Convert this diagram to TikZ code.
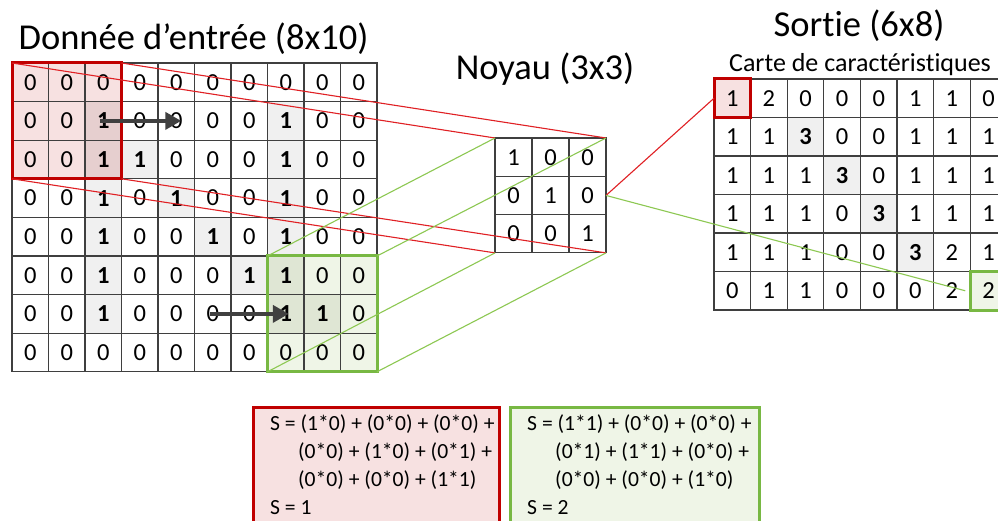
\documentclass[tikz,border=0pt]{standalone}
\usepackage{fontspec}
\setmainfont{Carlito}[Ligatures={NoCommon,NoContextual},RawFeature={-liga;-clig;-dlig}]
\usetikzlibrary{arrows.meta}
\definecolor{gridc}{HTML}{3F3F3F}
\definecolor{redb}{HTML}{C00000}
\definecolor{redl}{HTML}{E02024}
\definecolor{pinkf}{HTML}{F7E1E1}
\definecolor{pinkd}{HTML}{E6CFCF}
\definecolor{greenb}{HTML}{78B843}
\definecolor{greenl}{HTML}{8DC852}
\definecolor{greenf}{HTML}{EFF5E7}
\definecolor{greend}{HTML}{DFE6D4}
\definecolor{grayf}{HTML}{F0F0F0}
\definecolor{arrc}{HTML}{404040}
\tikzset{
  cellbase/.style={draw=gridc, line width=1.2pt, inner sep=0pt, outer sep=0pt,
    font=\fontsize{24.5}{27}\selectfont, text=black},
  incell/.style={cellbase, minimum width=36.5pt, minimum height=38.6pt},
  kcell/.style={cellbase, minimum width=37pt, minimum height=38.3pt},
  ocell/.style={cellbase, minimum width=36.6pt, minimum height=38.5pt},
  cz/.style={fill=white},
  cb/.style={fill=grayf, font=\fontsize{24.5}{27}\selectfont\bfseries},
  cpz/.style={fill=pinkf},
  cpb/.style={fill=pinkd, font=\fontsize{24.5}{27}\selectfont\bfseries},
  cgz/.style={fill=greenf},
  cgb/.style={fill=greend, font=\fontsize{24.5}{27}\selectfont\bfseries},
  redhl/.style={draw=redb, line width=3pt, inner sep=0pt, outer sep=0pt},
  greenhl/.style={draw=greenb, line width=3pt, inner sep=0pt, outer sep=0pt},
  redline/.style={draw=redl, line width=1.1pt},
  greenline/.style={draw=greenl, line width=1.1pt},
  slide/.style={draw=arrc, line width=4.5pt, -{Triangle[length=16pt,width=17pt]}},
  bigtitle/.style={font=\fontsize{36.5}{40}\selectfont, inner sep=0pt, anchor=base},
  subtitle/.style={font=\fontsize{26}{30}\selectfont, inner sep=0pt, anchor=base},
  formula/.style={font=\fontsize{21.6}{24}\selectfont, inner sep=0pt, anchor=base west},
}
\begin{document}
\begin{tikzpicture}[x=1pt,y=-1pt]
\useasboundingbox (0,0) rectangle (998,521);
\clip (0,0) rectangle (998,521);
\fill[white] (0,0) rectangle (998,521);

% titles
\node[bigtitle] (t1) at (193.5,50) {Donnée d’entrée (8x10)};
\node[bigtitle] (t2) at (545,80) {Noyau (3x3)};
\node[bigtitle] (t3) at (859,37) {Sortie (6x8)};
\node[subtitle] (t4) at (860,72) {Carte de caractéristiques};

% input grid
\foreach \row [count=\r from 0] in {
  {cpz/0,cpz/0,cpz/0,cz/0,cz/0,cz/0,cz/0,cz/0,cz/0,cz/0},
  {cpz/0,cpz/0,cpb/1,cz/0,cz/0,cz/0,cz/0,cb/1,cz/0,cz/0},
  {cpz/0,cpz/0,cpb/1,cb/1,cz/0,cz/0,cz/0,cb/1,cz/0,cz/0},
  {cz/0,cz/0,cb/1,cz/0,cb/1,cz/0,cz/0,cb/1,cz/0,cz/0},
  {cz/0,cz/0,cb/1,cz/0,cz/0,cb/1,cz/0,cb/1,cz/0,cz/0},
  {cz/0,cz/0,cb/1,cz/0,cz/0,cz/0,cb/1,cgb/1,cgz/0,cgz/0},
  {cz/0,cz/0,cb/1,cz/0,cz/0,cz/0,cz/0,cgb/1,cgb/1,cgz/0},
  {cz/0,cz/0,cz/0,cz/0,cz/0,cz/0,cz/0,cgz/0,cgz/0,cgz/0}} {
  \foreach \s/\v [count=\c from 0] in \row {
    \node[incell,\s] (i-\r-\c) at ({12+(\c+0.5)*36.5},{63+(\r+0.5)*38.6}) {\v};
  }
}

% kernel
\foreach \row [count=\r from 0] in {{1,0,0},{0,1,0},{0,0,1}} {
  \foreach \v [count=\c from 0] in \row {
    \node[kcell,fill=white] (k-\r-\c) at ({495+(\c+0.5)*37},{138+(\r+0.5)*38.3}) {\v};
  }
}

% output grid
\foreach \row [count=\r from 0] in {
  {cpz/1,cz/2,cz/0,cz/0,cz/0,cz/1,cz/1,cz/0},
  {cz/1,cz/1,cb/3,cz/0,cz/0,cz/1,cz/1,cz/1},
  {cz/1,cz/1,cz/1,cb/3,cz/0,cz/1,cz/1,cz/1},
  {cz/1,cz/1,cz/1,cz/0,cb/3,cz/1,cz/1,cz/1},
  {cz/1,cz/1,cz/1,cz/0,cz/0,cb/3,cz/2,cz/1},
  {cz/0,cz/1,cz/1,cz/0,cz/0,cz/0,cz/2,cgz/2}} {
  \foreach \s/\v [count=\c from 0] in \row {
    \node[ocell,\s] (o-\r-\c) at ({714+(\c+0.5)*36.6},{79+(\r+0.5)*38.5}) {\v};
  }
}

% highlight boxes
\node[redhl, minimum width=109.5pt, minimum height=115.8pt] (rin) at (i-1-1) {};
\node[greenhl, minimum width=109.5pt, minimum height=115.8pt] (gin) at (i-6-8) {};
\node[inner sep=0pt, outer sep=0pt, minimum width=111pt, minimum height=114.9pt] (kern) at (k-1-1) {};
\node[redhl, minimum width=36.6pt, minimum height=38.5pt] (rout) at (o-0-0) {};
\node[greenhl, minimum width=36.6pt, minimum height=38.5pt] (gout) at (o-5-7) {};

% connectors input -> kernel
\draw[redline] (rin.north west) -- (kern.north west);
\draw[redline] (rin.north east) -- (kern.north east);
\draw[redline] (rin.south west) -- (kern.south west);
\draw[redline] (rin.south east) -- (kern.south east);
\draw[greenline] (gin.north west) -- (kern.north west);
\draw[greenline] (gin.north east) -- (kern.north east);
\draw[greenline] (gin.south west) -- (kern.south west);
\draw[greenline] (gin.south east) -- (kern.south east);
% kernel -> output
\draw[redline] (kern.east) -- (rout.west);
\draw[greenline] (kern.east) -- ([xshift=-5pt]gout.west);

% sliding arrows
\draw[slide] ([xshift=-3pt]i-1-2.center) -- ([xshift=5pt]i-1-4.center);
\draw[slide] ([xshift=-3pt]i-6-5.center) -- ([xshift=3pt]i-6-7.center);

% formula boxes
\node[draw=redb, fill=pinkf, line width=2.5pt, inner sep=0pt, minimum width=246pt, minimum height=150pt, anchor=north west] (fr) at (252,406) {};
\node[draw=greenb, fill=greenf, line width=2.5pt, inner sep=0pt, minimum width=249pt, minimum height=150pt, anchor=north west] (fg) at (509,406) {};

\node[formula] (fr1) at (270,430) {S = (1*0) + (0*0) + (0*0) +};
\node[formula] (fr2) at (298,458) {(0*0) + (1*0) + (0*1) +};
\node[formula] (fr3) at (298,486) {(0*0) + (0*0) + (1*1)};
\node[formula] (fr4) at (270,514) {S = 1};

\node[formula] (fg1) at (527,430) {S = (1*1) + (0*0) + (0*0) +};
\node[formula] (fg2) at (555,458) {(0*1) + (1*1) + (0*0) +};
\node[formula] (fg3) at (555,486) {(0*0) + (0*0) + (1*0)};
\node[formula] (fg4) at (527,514) {S = 2};
\end{tikzpicture}
\end{document}
